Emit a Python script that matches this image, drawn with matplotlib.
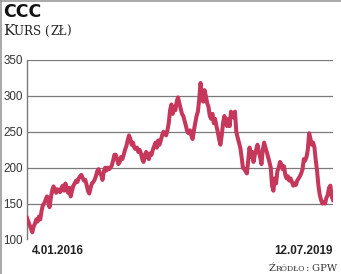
import numpy as np
import pandas as pd
import matplotlib
matplotlib.use('Agg')
import matplotlib.pyplot as plt
from matplotlib.lines import Line2D

# CCC share price (zł), evenly spaced in time
price = [
    130, 125, 120, 115, 110, 118, 122, 128, 125, 132, 128, 140, 148, 150, 155, 160,
    158, 145, 158, 168, 174, 170, 165, 170, 168, 166, 172, 175, 168, 178, 170, 165,
    172, 160, 168, 175, 178, 182, 180, 185, 188, 190, 186, 182, 183, 176, 168, 164,
    172, 178, 180, 183, 188, 195, 198, 192, 190, 183, 195, 200, 196, 200, 198, 200,
    203, 210, 218, 218, 212, 205, 208, 215, 212, 218, 225, 230, 238, 245, 240, 232,
    235, 228, 226, 228, 222, 225, 220, 212, 208, 218, 222, 215, 212, 220, 218, 225,
    230, 235, 228, 238, 232, 238, 245, 250, 248, 245, 252, 262, 280, 288, 275, 285,
    280, 292, 298, 290, 282, 275, 272, 265, 258, 250, 248, 252, 245, 240, 252, 262,
    272, 278, 295, 318, 300, 292, 308, 300, 290, 285, 272, 268, 275, 262, 268, 258,
    250, 240, 232, 245, 262, 272, 265, 258, 268, 258, 278, 275, 270, 278, 250, 242,
    235, 228, 215, 200, 198, 195, 192, 210, 228, 215, 222, 208, 218, 225, 232, 222,
    215, 205, 225, 235, 228, 222, 215, 208, 200, 175, 168, 185, 178, 195, 200, 208,
    205, 198, 202, 190, 185, 188, 182, 185, 180, 175, 178, 176, 182, 185, 188, 192,
    198, 212, 210, 215, 225, 248, 240, 232, 235, 228, 210, 195, 175, 162, 155, 150,
    152, 150, 158, 162, 172, 175, 160, 155,
]
dates = pd.date_range('2016-01-04', '2019-07-12', periods=len(price))
yticks = [100, 150, 200, 250, 300, 350]
first_label = '4.01.2016'
last_label = '12.07.2019'

W, H = 341, 274
fig = plt.figure(figsize=(W / 100, H / 100), dpi=100)
ax = fig.add_axes([27 / W, 1 - 239.5 / H, 306 / W, 179.5 / H])

ax.plot(dates, price, color='#c6375c', lw=2.9, solid_joinstyle='round', zorder=3)
ax.set_xlim(dates[0], dates[-1])
ax.set_ylim(100, 350)
ax.set_yticks(yticks)
for v in yticks[1:]:
    ax.axhline(v, color='#7a7a7a', lw=0.9, zorder=1)

for s in ['top', 'right', 'bottom']:
    ax.spines[s].set_visible(False)
ax.spines['left'].set_color('#7a7a7a')
ax.spines['left'].set_linewidth(1.0)
ax.tick_params(axis='y', length=0, pad=3, labelsize=8.4, labelcolor='#333333')
ax.tick_params(axis='x', length=0, labelbottom=False)
for t in ax.get_yticklabels():
    t.set_fontfamily('Liberation Sans')

# date labels at ends
fig.text(32 / W, 1 - 251 / H, first_label, ha='left', va='center', fontsize=8.4,
         fontweight='bold', family='Liberation Sans', color='#222222')
fig.text(333 / W, 1 - 251 / H, last_label, ha='right', va='center', fontsize=8.4,
         fontweight='bold', family='Liberation Sans', color='#222222')

renderer = fig.canvas.get_renderer()


def pieces(x, y, parts, right=None, **kw):
    # draw text pieces one after another (used for small caps)
    texts = []
    x0 = x
    for txt, size in parts:
        t = fig.text(x / W, 1 - y / H, txt, ha='left', va='baseline', fontsize=size, **kw)
        x = t.get_window_extent(renderer).x1
        texts.append(t)
    if right is not None:
        shift = right - x
        for t in texts:
            px, py = t.get_position()
            t.set_position((px + shift / W, py))


# title block
fig.text(3 / W, 1 - 17 / H, 'CCC', ha='left', va='baseline', fontsize=12.5,
         fontweight='bold', family='DejaVu Sans', color='#111111')
pieces(3, 35, [('K', 11), ('URS (', 8.6), ('ZŁ', 8.6), (')', 8.6)],
       family='DejaVu Serif', color='#222222')

# source
pieces(0, 271, [('Ź', 7.2), ('RÓDŁO', 5.6), (':', 7.2), (' GPW', 7.2)], right=337,
       family='DejaVu Serif', color='#333333')

# thin frame lines at top and left edge of the picture
fig.add_artist(Line2D([0.5 / W, 0.5 / W], [0, 1], color='#9a9a9a', lw=1.2))
fig.add_artist(Line2D([0, 1], [1 - 0.5 / H, 1 - 0.5 / H], color='#9a9a9a', lw=1.2))

fig.savefig('out.png', dpi=100)
